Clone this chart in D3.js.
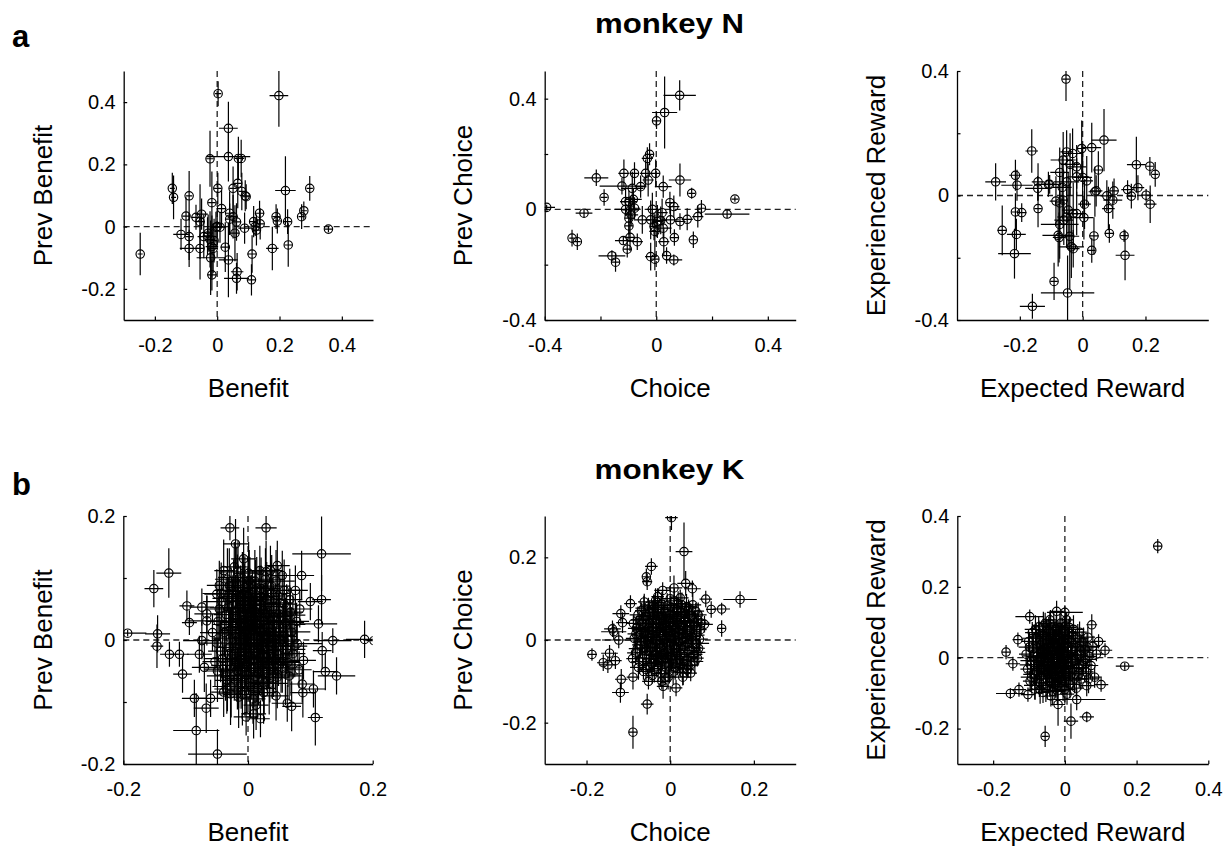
<!DOCTYPE html>
<html>
<head>
<meta charset="utf-8">
<script src="https://cdn.jsdelivr.net/npm/d3@7"></script>
<style>
  body { margin: 0; background: #fff; }
  svg text { font-family: "Liberation Sans", Arial, Helvetica, sans-serif; fill: #000; }
</style>
</head>
<body>
<svg id="fig" width="1225" height="846"></svg>
<script>
// Per-neuron regression coefficients, one row per neuron: [x, y, x error, y error]

// monkey N — Benefit vs Prev Benefit
const nBenefit = [
  [-0.247,-0.088,0.008,0.068],[-0.144,0.123,0.008,0.05],[-0.140,0.094,0.008,0.07],[-0.090,0.099,0.01,0.08],
  [-0.100,0.034,0.012,0.06],[-0.116,-0.025,0.025,0.05],[-0.090,-0.032,0.012,0.075],[-0.090,-0.070,0.03,0.06],
  [-0.068,0.030,0.015,0.04],[-0.055,0.016,0.015,0.12],[-0.050,0.040,0.02,0.05],[-0.055,-0.070,0.012,0.10],
  [-0.043,-0.032,0.02,0.07],[-0.023,0.218,0.012,0.09],[0.003,0.427,0.01,0.04],[0.036,0.316,0.03,0.085],
  [0.036,0.225,0.07,0.08],[0.068,0.219,0.012,0.07],[0.077,0.219,0.01,0.06],[0.002,0.123,0.012,0.05],
  [-0.017,0.077,0.012,0.10],[0.014,0.058,0.015,0.06],[0.040,0.043,0.015,0.07],[0.051,0.123,0.012,0.07],
  [0.066,0.139,0.012,0.08],[0.079,0.113,0.01,0.06],[0.090,0.099,0.012,0.05],[0.093,0.096,0.01,0.04],
  [0.000,0.000,0.02,0.06],[-0.004,-0.002,0.015,0.05],[-0.029,-0.021,0.012,0.06],[-0.023,-0.041,0.015,0.09],
  [-0.017,-0.064,0.02,0.10],[-0.013,-0.070,0.015,0.08],[0.026,-0.066,0.015,0.08],[-0.021,-0.100,0.045,0.12],
  [-0.017,-0.155,0.015,0.05],[0.036,-0.107,0.03,0.12],[0.064,-0.145,0.02,0.06],[0.062,-0.166,0.04,0.05],
  [0.110,-0.171,0.012,0.05],[0.112,-0.088,0.015,0.06],[0.057,-0.021,0.015,0.09],[0.062,0.015,0.015,0.06],
  [0.088,-0.005,0.02,0.05],[0.051,0.032,0.015,0.07],[0.117,0.016,0.012,0.05],[0.126,-0.011,0.012,0.05],
  [0.136,0.043,0.015,0.04],[0.138,0.009,0.012,0.05],[0.177,-0.070,0.02,0.07],[0.189,0.032,0.012,0.04],
  [0.193,0.018,0.012,0.04],[0.198,0.421,0.03,0.10],[0.219,0.116,0.033,0.11],[0.226,0.016,0.012,0.04],
  [0.228,-0.059,0.012,0.07],[0.271,0.032,0.01,0.04],[0.278,0.051,0.01,0.03],[0.297,0.123,0.01,0.04],
  [0.357,-0.008,0.012,0.01],[0.122,0.000,0.012,0.03],[0.009,-0.002,0.02,0.05],[0.040,0.024,0.012,0.05],
  [-0.031,-0.030,0.015,0.06],[-0.010,-0.045,0.01,0.07]
];

// monkey N — Choice vs Prev Choice
const nChoice = [
  [-0.393,0.007,0.03,0.01],[-0.259,-0.014,0.03,0.015],[-0.302,-0.104,0.01,0.03],[-0.283,-0.117,0.012,0.03],
  [-0.215,0.114,0.043,0.03],[-0.187,0.043,0.012,0.03],[-0.159,-0.168,0.048,0.02],[-0.146,-0.191,0.015,0.035],
  [-0.116,0.130,0.02,0.05],[-0.123,0.084,0.08,0.03],[-0.078,0.130,0.015,0.04],[-0.086,0.076,0.04,0.06],
  [-0.098,0.028,0.03,0.04],[-0.110,0.000,0.04,0.02],[-0.092,-0.002,0.03,0.05],[-0.078,0.004,0.02,0.04],
  [-0.098,-0.032,0.015,0.06],[-0.098,-0.060,0.015,0.05],[-0.118,-0.113,0.03,0.015],[-0.104,-0.144,0.015,0.03],
  [-0.094,-0.101,0.02,0.05],[-0.068,-0.117,0.02,0.03],[-0.056,0.082,0.02,0.04],[-0.038,0.130,0.02,0.05],
  [-0.032,0.184,0.02,0.04],[-0.024,0.199,0.015,0.04],[-0.029,0.106,0.02,0.06],[-0.002,0.130,0.015,0.05],
  [0.001,0.320,0.015,0.03],[0.030,0.350,0.045,0.13],[0.084,0.412,0.058,0.055],[0.025,0.082,0.03,0.04],
  [-0.014,0.000,0.02,0.06],[0.021,-0.012,0.02,0.05],[-0.050,-0.038,0.03,0.05],[-0.020,-0.038,0.02,0.07],
  [-0.008,-0.062,0.015,0.05],[-0.005,-0.080,0.02,0.06],[0.004,-0.044,0.02,0.06],[0.025,-0.068,0.03,0.04],
  [0.027,-0.117,0.02,0.05],[-0.020,-0.171,0.02,0.05],[-0.005,-0.180,0.015,0.04],[0.037,-0.167,0.015,0.03],
  [0.063,-0.183,0.03,0.02],[0.065,-0.102,0.015,0.03],[0.051,-0.038,0.03,0.05],[0.049,0.024,0.015,0.04],
  [0.063,0.010,0.02,0.04],[0.085,-0.044,0.02,0.03],[0.111,-0.036,0.02,0.04],[0.127,0.058,0.012,0.02],
  [0.149,-0.026,0.02,0.04],[0.162,0.004,0.015,0.03],[0.133,-0.110,0.015,0.03],[0.085,0.106,0.04,0.06],
  [0.254,-0.017,0.08,0.015],[0.282,0.037,0.012,0.01],[-0.082,0.036,0.03,0.04],[-0.110,0.028,0.02,0.05],
  [-0.090,-0.020,0.025,0.04],[0.016,-0.040,0.02,0.05]
];

// monkey N — Expected Reward vs Experienced Reward
const nReward = [
  [-0.053,0.374,0.012,0.07],[-0.277,0.044,0.033,0.06],[-0.214,0.065,0.02,0.05],[-0.209,0.033,0.05,0.05],
  [-0.214,-0.053,0.012,0.06],[-0.194,-0.055,0.015,0.03],[-0.256,-0.112,0.015,0.08],[-0.211,-0.125,0.03,0.05],
  [-0.217,-0.187,0.052,0.08],[-0.162,0.143,0.02,0.07],[-0.142,0.044,0.02,0.06],[-0.143,0.023,0.04,0.04],
  [-0.142,-0.042,0.012,0.06],[-0.109,0.036,0.04,0.04],[-0.105,0.036,0.02,0.03],[-0.085,-0.018,0.02,0.08],
  [-0.073,0.074,0.03,0.08],[-0.062,0.114,0.04,0.09],[-0.051,0.140,0.02,0.07],[-0.032,0.135,0.03,0.08],
  [-0.019,0.092,0.03,0.07],[-0.003,0.151,0.012,0.09],[0.029,0.154,0.03,0.08],[0.068,0.178,0.04,0.10],
  [0.050,0.082,0.015,0.06],[0.013,0.047,0.02,0.08],[0.000,0.058,0.03,0.10],[-0.019,0.060,0.03,0.06],
  [-0.051,0.044,0.04,0.08],[-0.062,-0.015,0.012,0.09],[-0.073,-0.024,0.015,0.10],[-0.046,-0.047,0.02,0.12],
  [-0.030,-0.058,0.02,0.10],[-0.019,-0.058,0.02,0.07],[-0.051,-0.069,0.03,0.10],[-0.073,-0.093,0.06,0.11],
  [-0.060,-0.079,0.03,0.08],[-0.078,-0.128,0.05,0.10],[-0.075,-0.135,0.02,0.08],[-0.041,-0.131,0.03,0.17],
  [-0.036,-0.165,0.04,0.10],[-0.030,-0.171,0.02,0.06],[0.006,-0.028,0.02,0.08],[0.004,-0.071,0.03,0.07],
  [0.039,0.012,0.02,0.08],[0.043,0.015,0.02,0.05],[0.036,-0.130,0.015,0.06],[0.029,-0.176,0.012,0.04],
  [0.077,-0.001,0.02,0.05],[0.082,-0.042,0.02,0.07],[0.085,-0.122,0.015,0.03],[0.096,-0.015,0.03,0.06],
  [0.100,0.015,0.015,0.04],[0.132,-0.129,0.012,0.02],[0.135,-0.192,0.03,0.08],[0.143,0.019,0.02,0.03],
  [0.155,-0.002,0.015,0.04],[0.171,0.099,0.03,0.09],[0.176,0.025,0.02,0.04],[0.202,0.001,0.015,0.02],
  [0.214,0.094,0.012,0.03],[0.231,0.068,0.01,0.04],[0.215,-0.028,0.02,0.06],[-0.091,-0.276,0.012,0.06],
  [-0.048,-0.313,0.085,0.12],[-0.160,-0.356,0.04,0.04],[-0.065,0.026,0.03,0.10],[-0.040,0.100,0.03,0.10]
];

// monkey K — Benefit vs Prev Benefit
const kBenefit = [
  [-0.193,0.011,0.03,0.005],[-0.151,0.083,0.015,0.03],[-0.127,0.108,0.02,0.04],[-0.145,0.010,0.02,0.03],
  [-0.146,-0.010,0.01,0.035],[-0.126,-0.023,0.015,0.02],[-0.110,-0.023,0.015,0.02],[-0.105,-0.055,0.015,0.03],
  [-0.098,0.055,0.012,0.025],[-0.094,0.028,0.012,0.02],[-0.086,-0.094,0.02,0.03],[-0.083,-0.146,0.037,0.06],
  [-0.049,-0.184,0.047,0.04],[-0.067,-0.110,0.02,0.04],[-0.060,-0.094,0.02,0.03],[-0.029,0.181,0.015,0.02],
  [-0.020,0.155,0.02,0.04],[0.029,0.181,0.017,0.02],[0.118,0.139,0.047,0.06],[0.086,0.104,0.02,0.04],
  [0.187,0.001,0.03,0.03],[0.202,-0.001,0.012,0.01],[0.136,-0.001,0.03,0.02],[0.124,-0.051,0.02,0.03],
  [0.142,-0.058,0.03,0.03],[0.108,-0.125,0.012,0.045],[0.105,-0.079,0.02,0.03],[0.070,-0.107,0.015,0.04],
  [0.063,-0.102,0.025,0.03],[0.088,-0.085,0.02,0.04],[0.087,-0.071,0.02,0.03],[0.113,0.026,0.03,0.03],
  [0.118,0.065,0.015,0.04],[0.100,0.062,0.02,0.03],[0.119,-0.017,0.015,0.03],[0.009,-0.119,0.02,0.04],
  [-0.003,-0.124,0.02,0.03],[0.020,-0.127,0.015,0.03],[0.045,-0.090,0.02,0.04],[-0.007,0.131,0.02,0.05],
  [0.047,0.120,0.02,0.04],[0.055,0.104,0.02,0.04],[-0.039,0.112,0.015,0.05],[-0.050,0.074,0.02,0.04],
  [-0.074,0.053,0.02,0.03],[-0.066,0.042,0.02,0.03],[-0.066,0.031,0.03,0.04],[-0.074,-0.001,0.03,0.03],
  [-0.078,-0.023,0.02,0.03],[-0.070,-0.044,0.02,0.04],[-0.039,-0.084,0.02,0.04],[-0.028,-0.087,0.02,0.05],
  [-0.015,-0.092,0.02,0.05],[0.076,0.080,0.02,0.04],[0.079,-0.006,0.04,0.03],[0.089,-0.033,0.02,0.03],
  [-0.042,0.062,0.03,0.05],[-0.035,0.041,0.02,0.06],[-0.038,0.012,0.03,0.04],[-0.044,-0.018,0.02,0.05],
  [-0.040,-0.047,0.03,0.04],[-0.033,-0.065,0.02,0.05],[-0.030,0.088,0.02,0.06],[-0.027,0.067,0.03,0.05],
  [-0.025,0.028,0.02,0.07],[-0.028,0.003,0.03,0.05],[-0.024,-0.024,0.02,0.06],[-0.029,-0.041,0.03,0.05],
  [-0.022,-0.058,0.02,0.04],[-0.018,0.101,0.03,0.05],[-0.017,0.078,0.02,0.06],[-0.015,0.052,0.03,0.05],
  [-0.019,0.035,0.02,0.04],[-0.014,0.016,0.03,0.06],[-0.016,-0.008,0.02,0.05],[-0.012,-0.032,0.03,0.06],
  [-0.018,-0.049,0.02,0.05],[-0.011,-0.071,0.03,0.04],[-0.009,0.092,0.02,0.05],[-0.006,0.063,0.03,0.06],
  [-0.008,0.044,0.02,0.05],[-0.004,0.022,0.03,0.06],[-0.007,0.005,0.02,0.05],[-0.003,-0.015,0.03,0.06],
  [-0.006,-0.038,0.02,0.05],[-0.002,-0.057,0.03,0.06],[-0.005,-0.082,0.02,0.04],[0.001,0.108,0.02,0.05],
  [0.003,0.074,0.03,0.06],[0.000,0.056,0.02,0.05],[0.004,0.031,0.03,0.07],[0.002,0.011,0.02,0.06],
  [0.005,-0.006,0.03,0.05],[0.001,-0.027,0.02,0.06],[0.006,-0.046,0.03,0.05],[0.003,-0.068,0.02,0.06],
  [0.008,-0.095,0.02,0.04],[0.011,0.095,0.03,0.05],[0.012,0.069,0.02,0.06],[0.010,0.047,0.03,0.05],
  [0.014,0.026,0.02,0.06],[0.009,0.002,0.03,0.07],[0.013,-0.019,0.02,0.05],[0.016,-0.036,0.03,0.06],
  [0.011,-0.059,0.02,0.05],[0.015,-0.078,0.03,0.05],[0.019,0.112,0.02,0.04],[0.021,0.083,0.03,0.05],
  [0.018,0.058,0.02,0.06],[0.022,0.037,0.03,0.05],[0.020,0.014,0.02,0.06],[0.024,-0.004,0.03,0.05],
  [0.019,-0.028,0.02,0.06],[0.023,-0.049,0.03,0.05],[0.026,-0.069,0.02,0.05],[0.028,0.098,0.03,0.05],
  [0.030,0.066,0.02,0.06],[0.027,0.043,0.03,0.05],[0.032,0.021,0.02,0.06],[0.029,0.000,0.03,0.05],
  [0.033,-0.017,0.02,0.06],[0.031,-0.039,0.03,0.05],[0.035,-0.061,0.02,0.04],[0.038,0.087,0.03,0.05],
  [0.040,0.054,0.02,0.06],[0.037,0.031,0.03,0.05],[0.042,0.008,0.02,0.06],[0.039,-0.010,0.03,0.05],
  [0.044,-0.031,0.02,0.05],[0.041,-0.052,0.03,0.04],[0.048,0.071,0.02,0.05],[0.050,0.042,0.03,0.05],
  [0.046,0.019,0.02,0.06],[0.052,-0.002,0.03,0.05],[0.049,-0.024,0.02,0.05],[0.055,-0.045,0.03,0.04],
  [0.058,0.058,0.02,0.05],[0.060,0.028,0.03,0.04],[0.057,0.006,0.02,0.05],[0.062,-0.015,0.03,0.04],
  [0.064,-0.036,0.02,0.04],[0.068,0.045,0.02,0.04],[0.070,0.013,0.03,0.04],[0.072,-0.022,0.02,0.04],
  [0.066,-0.058,0.02,0.04],[0.078,0.030,0.02,0.03],[-0.048,0.030,0.02,0.04],[-0.050,-0.005,0.03,0.04],
  [-0.053,-0.035,0.02,0.04],[-0.057,0.012,0.02,0.03],[-0.046,0.088,0.02,0.04],[-0.034,-0.079,0.02,0.04],
  [-0.022,0.118,0.02,0.04],[0.036,0.112,0.02,0.04],[0.083,0.050,0.02,0.03],[0.082,-0.048,0.02,0.03],
  [-0.043,0.075,0.03,0.05],[-0.041,-0.030,0.03,0.05],[-0.037,0.025,0.02,0.05],[-0.036,-0.058,0.03,0.04],
  [-0.033,0.098,0.02,0.05],[-0.031,0.052,0.03,0.05],[-0.030,-0.012,0.02,0.06],[-0.027,-0.075,0.03,0.05],
  [-0.026,0.015,0.02,0.06],[-0.023,0.080,0.03,0.05],[-0.021,-0.035,0.02,0.05],[-0.020,0.045,0.03,0.06],
  [-0.017,-0.062,0.02,0.05],[-0.016,0.110,0.03,0.05],[-0.013,0.002,0.02,0.06],[-0.012,0.070,0.03,0.05],
  [-0.010,-0.020,0.02,0.06],[-0.009,-0.088,0.03,0.05],[-0.007,0.033,0.02,0.06],[-0.005,0.085,0.03,0.05],
  [-0.003,-0.045,0.02,0.06],[-0.002,0.050,0.03,0.05],[0.000,-0.008,0.02,0.06],[0.002,0.095,0.03,0.05],
  [0.004,-0.075,0.02,0.05],[0.006,0.018,0.03,0.06],[0.007,0.062,0.02,0.05],[0.009,-0.030,0.03,0.06],
  [0.011,0.038,0.02,0.05],[0.013,-0.105,0.02,0.04],[0.014,0.084,0.03,0.05],[0.016,-0.010,0.02,0.06],
  [0.017,-0.055,0.03,0.05],[0.019,0.025,0.02,0.06],[0.021,0.070,0.03,0.05],[0.022,-0.040,0.02,0.05],
  [0.024,0.048,0.03,0.06],[0.025,-0.085,0.02,0.05],[0.027,0.008,0.03,0.05],[0.029,0.110,0.02,0.05],
  [0.030,-0.028,0.03,0.05],[0.032,0.058,0.02,0.05],[0.034,-0.070,0.03,0.05],[0.035,0.012,0.02,0.05],
  [0.037,0.075,0.03,0.05],[0.039,-0.045,0.02,0.05],[0.041,0.038,0.03,0.05],[0.043,-0.005,0.02,0.05],
  [0.045,0.095,0.03,0.05],[0.047,-0.060,0.02,0.05],[0.049,0.025,0.03,0.05],[0.051,0.060,0.02,0.05],
  [0.053,-0.035,0.03,0.05],[0.055,0.008,0.02,0.05],[0.058,0.080,0.03,0.05],[0.060,-0.055,0.02,0.05],
  [0.062,0.040,0.03,0.05],[0.064,0.000,0.02,0.05],[0.067,0.065,0.02,0.05],[0.069,-0.040,0.02,0.05],
  [0.072,0.025,0.02,0.05],[0.075,-0.010,0.02,0.05],[-0.046,0.050,0.02,0.05],[-0.049,-0.050,0.02,0.05],
  [-0.010,0.020,0.03,0.06],[0.000,0.030,0.03,0.06],[0.010,0.010,0.03,0.06],[0.020,0.000,0.03,0.06],
  [-0.020,0.010,0.03,0.06],[0.005,0.045,0.03,0.06],[0.015,-0.020,0.03,0.06],[-0.005,-0.030,0.03,0.06],
  [0.025,0.030,0.03,0.06],[0.035,-0.010,0.03,0.06],[-0.015,-0.050,0.03,0.06],[0.000,0.070,0.03,0.06]
];

// monkey K — Choice vs Prev Choice
const kChoice = [
  [0.003,0.296,0.015,0.03],[0.033,0.214,0.02,0.07],[-0.045,0.178,0.015,0.02],[-0.057,0.153,0.01,0.02],
  [-0.055,0.141,0.012,0.02],[0.167,0.098,0.04,0.02],[0.085,0.099,0.015,0.02],[0.098,0.074,0.012,0.02],
  [0.123,0.075,0.02,0.015],[0.123,0.028,0.01,0.02],[-0.095,0.088,0.015,0.02],[-0.118,0.064,0.02,0.02],
  [-0.114,0.042,0.015,0.025],[-0.138,0.027,0.02,0.02],[-0.135,0.020,0.03,0.02],[-0.187,-0.035,0.012,0.015],
  [-0.160,-0.055,0.015,0.02],[-0.149,-0.060,0.02,0.02],[-0.145,-0.032,0.02,0.02],[-0.131,-0.050,0.015,0.02],
  [-0.117,-0.095,0.015,0.025],[-0.119,-0.127,0.02,0.025],[-0.089,-0.090,0.015,0.03],[-0.055,-0.155,0.015,0.025],
  [-0.089,-0.223,0.01,0.04],[-0.017,-0.112,0.015,0.03],[0.014,-0.116,0.015,0.02],[0.049,-0.080,0.015,0.02],
  [0.065,-0.044,0.015,0.02],[0.063,-0.008,0.03,0.02],[0.082,0.038,0.02,0.02],[0.053,0.124,0.02,0.02],
  [0.037,0.137,0.02,0.03],[0.009,0.126,0.02,0.03],[-0.018,0.120,0.02,0.02],[-0.039,0.084,0.015,0.02],
  [-0.123,0.000,0.04,0.02],[0.041,-0.072,0.015,0.02],
  [-0.082,0.015,0.02,0.02],[-0.079,-0.021,0.02,0.03],[-0.074,0.048,0.02,0.02],[-0.073,-0.052,0.02,0.03],
  [-0.069,0.071,0.015,0.02],[-0.068,-0.004,0.02,0.03],[-0.065,0.030,0.02,0.02],[-0.064,-0.076,0.015,0.02],
  [-0.060,0.057,0.02,0.03],[-0.057,-0.036,0.02,0.03],[-0.056,0.009,0.02,0.02],[-0.052,0.082,0.015,0.02],
  [-0.051,-0.061,0.02,0.03],[-0.048,0.041,0.02,0.03],[-0.047,-0.018,0.02,0.02],[-0.044,0.023,0.02,0.03],
  [-0.043,-0.086,0.015,0.02],[-0.040,0.066,0.02,0.03],[-0.039,-0.045,0.02,0.03],[-0.036,0.002,0.02,0.03],
  [-0.034,0.050,0.02,0.02],[-0.033,-0.027,0.02,0.03],[-0.030,0.091,0.015,0.03],[-0.029,-0.069,0.02,0.03],
  [-0.026,0.031,0.02,0.03],[-0.025,-0.009,0.02,0.03],[-0.022,0.074,0.02,0.03],[-0.021,-0.052,0.02,0.03],
  [-0.018,0.013,0.02,0.03],[-0.016,0.056,0.02,0.03],[-0.015,-0.033,0.02,0.03],[-0.012,-0.090,0.015,0.02],
  [-0.011,0.039,0.02,0.03],[-0.008,-0.015,0.02,0.03],[-0.007,0.083,0.02,0.03],[-0.004,-0.063,0.02,0.03],
  [-0.003,0.021,0.02,0.03],[0.000,0.062,0.02,0.03],[0.001,-0.041,0.02,0.03],[0.004,0.003,0.02,0.03],
  [0.006,0.045,0.02,0.03],[0.007,-0.078,0.02,0.03],[0.010,0.095,0.02,0.03],[0.011,-0.022,0.02,0.03],
  [0.014,0.028,0.02,0.03],[0.016,0.069,0.02,0.03],[0.017,-0.055,0.02,0.03],[0.020,0.010,0.02,0.03],
  [0.021,-0.005,0.02,0.03],[0.024,0.052,0.02,0.03],[0.025,-0.035,0.02,0.03],[0.028,0.085,0.02,0.03],
  [0.029,-0.068,0.02,0.03],[0.032,0.033,0.02,0.03],[0.033,-0.015,0.02,0.03],[0.036,0.062,0.02,0.03],
  [0.037,0.005,0.02,0.03],[0.040,-0.048,0.02,0.03],[0.041,0.045,0.02,0.03],[0.044,0.078,0.02,0.02],
  [0.045,-0.025,0.02,0.03],[0.048,0.020,0.02,0.03],[0.049,-0.060,0.02,0.02],[0.052,0.058,0.02,0.03],
  [0.053,-0.002,0.02,0.02],[0.056,0.035,0.02,0.02],[0.057,-0.035,0.02,0.02],[0.061,0.070,0.02,0.02],
  [0.062,0.012,0.02,0.02],[0.066,0.048,0.02,0.02],[0.068,-0.020,0.015,0.02],[0.072,0.025,0.015,0.02],
  [-0.088,0.040,0.015,0.02],[-0.090,-0.045,0.015,0.02],[-0.062,0.092,0.015,0.02],[-0.030,0.105,0.015,0.02],
  [0.024,0.102,0.02,0.02],[-0.020,-0.100,0.02,0.02],[0.030,-0.090,0.02,0.02],[-0.052,-0.100,0.015,0.02],
  [-0.010,0.008,0.02,0.03],[-0.022,-0.020,0.02,0.03],[0.008,0.060,0.02,0.03],[-0.040,0.030,0.02,0.03],
  [-0.086,0.004,0.02,0.03],[-0.083,-0.031,0.02,0.03],[-0.081,0.028,0.02,0.03],[-0.077,0.061,0.02,0.02],
  [-0.076,-0.066,0.02,0.03],[-0.072,0.012,0.02,0.03],[-0.071,-0.012,0.02,0.03],[-0.067,0.039,0.02,0.03],
  [-0.066,-0.044,0.02,0.03],[-0.063,0.077,0.02,0.03],[-0.062,-0.019,0.02,0.03],[-0.059,0.021,0.02,0.03],
  [-0.058,-0.071,0.02,0.03],[-0.055,0.049,0.02,0.03],[-0.054,-0.003,0.02,0.03],[-0.050,0.065,0.02,0.03],
  [-0.050,-0.028,0.02,0.03],[-0.046,0.006,0.02,0.03],[-0.045,-0.057,0.02,0.03],[-0.042,0.053,0.02,0.03],
  [-0.041,0.014,0.02,0.03],[-0.038,-0.073,0.02,0.03],[-0.037,0.079,0.02,0.03],[-0.035,-0.036,0.02,0.03],
  [-0.032,0.037,0.02,0.03],[-0.031,-0.002,0.02,0.03],[-0.028,0.060,0.02,0.03],[-0.027,-0.054,0.02,0.03],
  [-0.024,0.018,0.02,0.03],[-0.023,-0.081,0.02,0.03],[-0.020,0.087,0.02,0.03],[-0.019,-0.038,0.02,0.03],
  [-0.017,0.043,0.02,0.03],[-0.014,0.001,0.02,0.03],[-0.013,0.068,0.02,0.03],[-0.010,-0.058,0.02,0.03],
  [-0.009,0.025,0.02,0.03],[-0.006,-0.027,0.02,0.03],[-0.005,0.051,0.02,0.03],[-0.002,-0.075,0.02,0.03],
  [-0.001,0.009,0.02,0.03],[0.002,0.078,0.02,0.03],[0.003,-0.046,0.02,0.03],[0.005,0.033,0.02,0.03],
  [0.008,-0.012,0.02,0.03],[0.009,0.057,0.02,0.03],[0.012,-0.066,0.02,0.03],[0.013,0.017,0.02,0.03],
  [0.015,-0.031,0.02,0.03],[0.018,0.040,0.02,0.03],[0.019,0.088,0.02,0.03],[0.022,-0.047,0.02,0.03],
  [0.023,0.024,0.02,0.03],[0.026,-0.020,0.02,0.03],[0.027,0.067,0.02,0.03],[0.030,0.004,0.02,0.03],
  [0.031,-0.079,0.02,0.03],[0.034,0.047,0.02,0.03],[0.035,-0.040,0.02,0.03],[0.038,0.016,0.02,0.03],
  [0.039,0.081,0.02,0.03],[0.042,-0.008,0.02,0.03],[0.043,-0.062,0.02,0.03],[0.046,0.063,0.02,0.03],
  [0.047,0.031,0.02,0.03],[0.050,-0.043,0.02,0.03],[0.051,0.008,0.02,0.03],[0.054,0.085,0.02,0.03],
  [0.055,-0.018,0.02,0.03],[0.058,0.042,0.02,0.03],[0.059,-0.052,0.02,0.03],[0.063,0.026,0.02,0.03],
  [0.064,-0.030,0.02,0.03],[0.067,0.061,0.02,0.03],[0.070,0.002,0.02,0.03],[0.074,0.041,0.02,0.03],
  [-0.070,0.025,0.02,0.03],[-0.052,0.030,0.02,0.03],[-0.033,0.020,0.02,0.03],[-0.015,0.030,0.02,0.03],
  [0.000,0.040,0.02,0.03],[0.017,0.055,0.02,0.03],[-0.060,-0.005,0.02,0.03],[-0.043,-0.015,0.02,0.03],
  [-0.026,-0.010,0.02,0.03],[-0.008,-0.005,0.02,0.03],[0.010,0.000,0.02,0.03],[0.028,0.015,0.02,0.03],
  [-0.048,-0.045,0.02,0.03],[-0.030,-0.040,0.02,0.03],[-0.012,-0.045,0.02,0.03],[0.006,-0.030,0.02,0.03],
  [0.024,-0.060,0.02,0.03],[-0.040,0.060,0.02,0.03],[-0.020,0.055,0.02,0.03],[0.015,0.075,0.02,0.03],
  [-0.065,0.050,0.02,0.03],[-0.035,0.095,0.02,0.03],[0.000,0.100,0.02,0.03],[-0.005,-0.090,0.02,0.03]
];

// monkey K — Expected Reward vs Experienced Reward
const kReward = [
  [0.259,0.315,0.012,0.02],[0.167,-0.024,0.025,0.01],[-0.164,0.016,0.012,0.02],[-0.098,0.116,0.04,0.02],
  [-0.055,-0.222,0.01,0.03],[0.017,-0.179,0.02,0.05],[0.061,-0.167,0.02,0.015],[0.033,-0.118,0.08,0.03],
  [-0.152,-0.101,0.04,0.015],[-0.128,-0.090,0.02,0.02],[-0.145,-0.017,0.02,0.02],[0.101,-0.076,0.02,0.02],
  [0.075,0.093,0.015,0.03],[0.112,0.021,0.02,0.02],[0.094,0.046,0.02,0.02],[0.061,-0.079,0.02,0.03],
  [-0.019,-0.132,0.02,0.06],[-0.023,0.131,0.02,0.03],[0.000,0.128,0.05,0.02],[0.005,0.107,0.02,0.02],
  [-0.042,0.107,0.02,0.02],[-0.103,-0.104,0.02,0.02],[-0.131,0.051,0.015,0.02],
  [-0.108,0.010,0.02,0.03],[-0.104,-0.032,0.02,0.03],[-0.101,0.046,0.02,0.03],[-0.097,-0.066,0.02,0.03],
  [-0.094,-0.008,0.03,0.03],[-0.091,0.071,0.02,0.03],[-0.088,0.025,0.02,0.04],[-0.086,-0.047,0.03,0.03],
  [-0.083,-0.089,0.02,0.03],[-0.080,0.056,0.02,0.04],[-0.078,0.003,0.03,0.04],[-0.075,-0.025,0.02,0.04],
  [-0.073,0.087,0.02,0.03],[-0.071,-0.071,0.03,0.04],[-0.068,0.036,0.02,0.04],[-0.066,-0.052,0.02,0.04],
  [-0.064,0.015,0.03,0.04],[-0.061,-0.098,0.02,0.03],[-0.059,0.064,0.02,0.04],[-0.057,-0.013,0.03,0.04],
  [-0.055,0.097,0.02,0.03],[-0.053,-0.038,0.02,0.04],[-0.051,0.041,0.03,0.04],[-0.049,-0.079,0.02,0.04],
  [-0.047,0.006,0.02,0.04],[-0.045,0.075,0.03,0.04],[-0.043,-0.058,0.02,0.04],[-0.041,0.027,0.02,0.04],
  [-0.039,-0.108,0.02,0.03],[-0.037,-0.020,0.03,0.04],[-0.035,0.053,0.02,0.04],[-0.033,-0.043,0.02,0.04],
  [-0.031,0.089,0.03,0.04],[-0.029,0.011,0.02,0.04],[-0.027,-0.068,0.02,0.04],[-0.025,0.038,0.03,0.04],
  [-0.023,-0.005,0.02,0.04],[-0.021,-0.093,0.02,0.04],[-0.019,0.066,0.03,0.04],[-0.017,-0.031,0.02,0.04],
  [-0.015,0.019,0.02,0.04],[-0.013,-0.056,0.03,0.04],[-0.011,0.098,0.02,0.03],[-0.009,0.044,0.02,0.04],
  [-0.007,-0.014,0.03,0.04],[-0.005,-0.082,0.02,0.04],[-0.003,0.029,0.02,0.04],[-0.001,0.073,0.03,0.04],
  [0.001,-0.040,0.02,0.04],[0.003,0.004,0.02,0.04],[0.006,-0.103,0.02,0.03],[0.008,0.054,0.03,0.04],
  [0.010,-0.022,0.02,0.04],[0.013,0.085,0.02,0.03],[0.015,-0.063,0.03,0.04],[0.018,0.021,0.02,0.04],
  [0.020,-0.004,0.02,0.04],[0.023,0.062,0.03,0.03],[0.026,-0.046,0.02,0.04],[0.029,0.036,0.02,0.03],
  [0.032,-0.086,0.02,0.03],[0.035,0.008,0.03,0.03],[0.038,-0.028,0.02,0.03],[0.041,0.072,0.02,0.03],
  [0.045,-0.060,0.02,0.03],[0.048,0.044,0.02,0.03],[0.052,-0.012,0.02,0.03],[0.056,0.024,0.02,0.03],
  [0.060,-0.040,0.02,0.03],[0.064,0.058,0.02,0.03],[0.068,0.004,0.02,0.03],[0.073,-0.022,0.02,0.03],
  [0.078,0.032,0.02,0.03],[0.083,-0.055,0.02,0.03],[0.088,0.010,0.02,0.02],
  [-0.060,-0.030,0.03,0.04],[-0.045,-0.030,0.03,0.04],[-0.030,-0.050,0.03,0.04],[-0.020,0.000,0.03,0.05],
  [-0.010,-0.025,0.03,0.05],[-0.040,0.010,0.03,0.05],[-0.015,0.050,0.03,0.04],[0.000,-0.060,0.03,0.04],
  [-0.070,0.000,0.03,0.04],[0.010,0.030,0.03,0.04],[-0.050,0.060,0.03,0.04],[-0.025,-0.075,0.03,0.04],
  [-0.099,0.030,0.03,0.04],[-0.096,-0.020,0.03,0.04],[-0.093,-0.055,0.03,0.04],[-0.090,0.055,0.03,0.04],
  [-0.087,0.005,0.03,0.04],[-0.084,-0.078,0.03,0.04],[-0.082,0.080,0.03,0.04],[-0.079,-0.040,0.03,0.04],
  [-0.077,0.030,0.03,0.04],[-0.074,-0.010,0.03,0.04],[-0.072,0.065,0.03,0.04],[-0.069,-0.090,0.03,0.04],
  [-0.067,0.015,0.03,0.04],[-0.065,-0.060,0.03,0.04],[-0.062,0.045,0.03,0.04],[-0.060,0.090,0.03,0.04],
  [-0.058,-0.020,0.03,0.04],[-0.055,0.025,0.03,0.04],[-0.053,-0.085,0.03,0.04],[-0.051,0.070,0.03,0.04],
  [-0.049,-0.045,0.03,0.04],[-0.047,0.000,0.03,0.04],[-0.044,0.050,0.03,0.04],[-0.042,-0.070,0.03,0.04],
  [-0.040,0.095,0.03,0.04],[-0.038,-0.030,0.03,0.04],[-0.036,0.020,0.03,0.04],[-0.034,-0.095,0.03,0.04],
  [-0.032,0.065,0.03,0.04],[-0.030,-0.010,0.03,0.04],[-0.028,0.040,0.03,0.04],[-0.026,-0.055,0.03,0.04],
  [-0.024,0.080,0.03,0.04],[-0.022,0.010,0.03,0.04],[-0.020,-0.080,0.03,0.04],[-0.018,0.050,0.03,0.04],
  [-0.016,-0.040,0.03,0.04],[-0.014,0.085,0.03,0.04],[-0.012,-0.005,0.03,0.04],[-0.010,0.030,0.03,0.04],
  [-0.008,-0.065,0.03,0.04],[-0.006,0.060,0.03,0.04],[-0.004,-0.025,0.03,0.04],[-0.002,0.015,0.03,0.04],
  [0.000,-0.090,0.03,0.04],[0.002,0.090,0.03,0.04],[0.004,-0.045,0.03,0.04],[0.006,0.040,0.03,0.04],
  [0.009,-0.010,0.03,0.04],[0.011,0.070,0.03,0.04],[0.014,-0.075,0.03,0.04],[0.016,0.005,0.03,0.04],
  [0.019,0.045,0.03,0.04],[0.021,-0.030,0.03,0.04],[0.024,0.080,0.03,0.04],[0.027,-0.060,0.03,0.04],
  [0.030,0.020,0.03,0.04],[0.033,-0.005,0.03,0.04],[0.036,0.055,0.03,0.04],[0.040,-0.045,0.03,0.04],
  [0.044,0.020,0.03,0.04],[0.048,-0.020,0.03,0.04],[0.052,0.045,0.03,0.04],[0.057,-0.005,0.03,0.04],
  [0.062,0.030,0.03,0.04],[0.066,-0.060,0.03,0.04],[-0.060,0.005,0.03,0.05],[-0.045,0.030,0.03,0.05],
  [-0.030,0.000,0.03,0.05],[-0.015,0.020,0.03,0.05],[0.000,0.010,0.03,0.05],[-0.050,-0.015,0.03,0.05],
  [-0.035,-0.045,0.03,0.05],[-0.020,-0.030,0.03,0.05],[-0.005,-0.015,0.03,0.05],[0.010,-0.040,0.03,0.05],
  [-0.040,0.070,0.03,0.05],[-0.025,0.055,0.03,0.05],[-0.010,0.045,0.03,0.05],[-0.065,-0.035,0.03,0.05]
];

// Axis ticks and tick labels for each panel
const ticksNBenefit = [-0.2, 0, 0.2, 0.4];
const ticksNChoice = [-0.4, -0.2, 0, 0.2, 0.4];
const labelsNChoice = [-0.4, 0, 0.4];
const ticksNRewardX = [-0.2, 0, 0.2];
const ticksNRewardY = [-0.4, -0.2, 0, 0.2, 0.4];
const labelsNRewardY = [-0.4, 0, 0.4];
const ticksKBenefitX = [-0.2, 0, 0.2];
const ticksKBenefitY = [-0.2, -0.1, 0, 0.1, 0.2];
const labelsKBenefitY = [-0.2, 0, 0.2];
const ticksKChoice = [-0.2, 0, 0.2];
const ticksKReward = [-0.2, 0, 0.2, 0.4];

// Layout of the six axes boxes
const panels = [
  { rows: nBenefit, box: [123.7, 71, 373, 320], xd: [-0.3, 0.5], yd: [-0.3, 0.5],
    xt: ticksNBenefit, xl: ticksNBenefit, yt: ticksNBenefit, yl: ticksNBenefit,
    xlabel: "Benefit", ylabel: "Prev Benefit", ylabX: 52 },
  { rows: nChoice, box: [544.7, 71, 795.7, 320], xd: [-0.4, 0.5], yd: [-0.4, 0.5],
    xt: ticksNChoice, xl: labelsNChoice, yt: ticksNChoice, yl: labelsNChoice,
    xlabel: "Choice", ylabel: "Prev Choice", ylabX: 472 },
  { rows: nReward, box: [957, 71, 1208.3, 320], xd: [-0.4, 0.4], yd: [-0.4, 0.4],
    xt: ticksNRewardX, xl: ticksNRewardX, yt: ticksNRewardY, yl: labelsNRewardY,
    xlabel: "Expected Reward", ylabel: "Experienced Reward", ylabX: 885 },
  { rows: kBenefit, box: [123.3, 516, 372.7, 764], xd: [-0.2, 0.2], yd: [-0.2, 0.2],
    xt: ticksKBenefitX, xl: ticksKBenefitX, yt: ticksKBenefitY, yl: labelsKBenefitY,
    xlabel: "Benefit", ylabel: "Prev Benefit", ylabX: 52 },
  { rows: kChoice, box: [544.7, 516, 795.7, 764], xd: [-0.3, 0.3], yd: [-0.3, 0.3],
    xt: ticksKChoice, xl: ticksKChoice, yt: ticksKChoice, yl: ticksKChoice,
    xlabel: "Choice", ylabel: "Prev Choice", ylabX: 472 },
  { rows: kReward, box: [957.3, 516, 1208.3, 764], xd: [-0.3, 0.4], yd: [-0.3, 0.4],
    xt: ticksKReward, xl: ticksKReward, yt: ticksKReward, yl: ticksKReward,
    xlabel: "Expected Reward", ylabel: "Experienced Reward", ylabX: 885 }
];

const svg = d3.select("#fig");
const fmt = d => (d === 0 ? "0" : String(d));

panels.forEach((p, i) => {
  const [x0, y0, x1, y1] = p.box;
  const x = d3.scaleLinear().domain(p.xd).range([x0, x1]);
  const y = d3.scaleLinear().domain(p.yd).range([y1, y0]);
  const g = svg.append("g");

  const clipId = "clip" + i;
  svg.append("clipPath").attr("id", clipId)
    .append("rect").attr("x", x0).attr("y", y0).attr("width", x1 - x0).attr("height", y1 - y0);

  // zero reference lines
  g.append("line").attr("x1", x(0)).attr("x2", x(0)).attr("y1", y0).attr("y2", y1)
    .attr("stroke", "#222").attr("stroke-width", 1.3).attr("stroke-dasharray", "6,4");
  g.append("line").attr("x1", x0).attr("x2", x1).attr("y1", y(0)).attr("y2", y(0))
    .attr("stroke", "#222").attr("stroke-width", 1.3).attr("stroke-dasharray", "6,4");

  // error bars and markers
  const pts = g.append("g").attr("clip-path", `url(#${clipId})`);
  const pt = pts.selectAll("g.pt").data(p.rows).join("g").attr("class", "pt");
  pt.append("line")
    .attr("x1", d => x(d[0])).attr("x2", d => x(d[0]))
    .attr("y1", d => y(d[1] - d[3])).attr("y2", d => y(d[1] + d[3]))
    .attr("stroke", "#000").attr("stroke-width", 1.2);
  pt.append("line")
    .attr("x1", d => x(d[0] - d[2])).attr("x2", d => x(d[0] + d[2]))
    .attr("y1", d => y(d[1])).attr("y2", d => y(d[1]))
    .attr("stroke", "#000").attr("stroke-width", 1.2);
  pt.append("circle")
    .attr("cx", d => x(d[0])).attr("cy", d => y(d[1])).attr("r", 4.2)
    .attr("fill", "none").attr("stroke", "#000").attr("stroke-width", 1.15);

  // axes (ticks point inward)
  const xAxis = d3.axisBottom(x).tickValues(p.xt).tickSizeInner(-3.5).tickSizeOuter(0)
    .tickPadding(17.5).tickFormat(d => (p.xl.includes(d) ? fmt(d) : ""));
  const yAxis = d3.axisLeft(y).tickValues(p.yt).tickSizeInner(-3.5).tickSizeOuter(0)
    .tickPadding(8).tickFormat(d => (p.yl.includes(d) ? fmt(d) : ""));

  const gx = svg.append("g").attr("transform", `translate(0,${y1})`).call(xAxis);
  const gy = svg.append("g").attr("transform", `translate(${x0},0)`).call(yAxis);
  [gx, gy].forEach(a => {
    a.select(".domain").attr("stroke", "#000").attr("stroke-width", 1.3);
    a.selectAll(".tick line").attr("stroke", "#000").attr("stroke-width", 1.2);
    a.selectAll(".tick text").attr("font-size", 20).attr("fill", "#000")
      .attr("font-family", '"Liberation Sans", Arial, Helvetica, sans-serif');
  });

  // axis titles
  svg.append("text").attr("x", (x0 + x1) / 2).attr("y", y1 + 77)
    .attr("text-anchor", "middle").attr("font-size", 26).text(p.xlabel);
  svg.append("text")
    .attr("transform", `translate(${p.ylabX},${(y0 + y1) / 2}) rotate(-90)`)
    .attr("text-anchor", "middle").attr("font-size", 26).text(p.ylabel);
});

// row titles and panel letters
svg.append("text").attr("x", 669.5).attr("y", 33).attr("text-anchor", "middle")
  .attr("font-size", 27).attr("font-weight", "bold")
  .attr("textLength", 149).attr("lengthAdjust", "spacingAndGlyphs").text("monkey N");
svg.append("text").attr("x", 669.5).attr("y", 479).attr("text-anchor", "middle")
  .attr("font-size", 27).attr("font-weight", "bold")
  .attr("textLength", 150).attr("lengthAdjust", "spacingAndGlyphs").text("monkey K");
svg.append("text").attr("x", 12).attr("y", 46.5).attr("font-size", 31)
  .attr("font-weight", "bold").text("a");
svg.append("text").attr("x", 12).attr("y", 495).attr("font-size", 31)
  .attr("font-weight", "bold").text("b");
</script>
</body>
</html>
